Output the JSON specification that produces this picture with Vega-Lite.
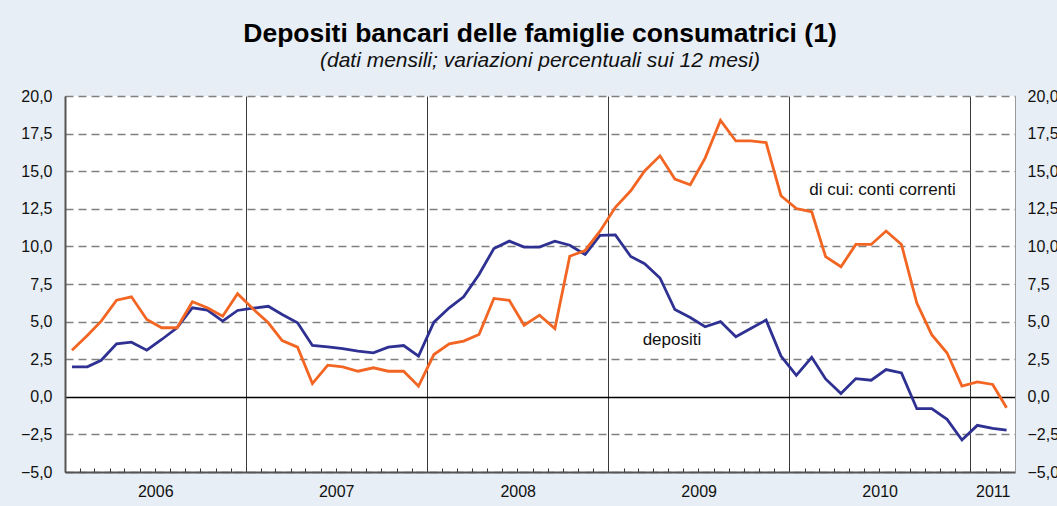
{
  "$schema": "https://vega.github.io/schema/vega-lite/v6.json",
  "width": 950,
  "height": 376,
  "autosize": {"type": "none"},
  "padding": {"left": 65, "top": 96, "right": 42, "bottom": 34},
  "background": "#e7eef5",
  "config": {
    "font": "Liberation Sans",
    "view": {"fill": "white", "stroke": null},
    "axis": {"labelFont": "Liberation Sans", "labelFontSize": 16, "labelColor": "#111"}
  },
  "title": {
    "text": "Depositi bancari delle famiglie consumatrici (1)",
    "subtitle": "(dati mensili; variazioni percentuali sui 12 mesi)",
    "anchor": "middle",
    "frame": "group",
    "font": "Liberation Sans",
    "fontSize": 26.5,
    "fontWeight": "bold",
    "color": "#000",
    "subtitleFont": "Liberation Sans",
    "subtitleFontSize": 21,
    "subtitleFontStyle": "italic",
    "subtitleColor": "#111",
    "subtitlePadding": 3,
    "offset": 17
  },
  "datasets": {
    "depositi": [
      {"date": "2006-01-15", "v": 1.99}, {"date": "2006-02-15", "v": 1.99}, {"date": "2006-03-15", "v": 2.43},
      {"date": "2006-04-15", "v": 3.52}, {"date": "2006-05-15", "v": 3.63}, {"date": "2006-06-15", "v": 3.10},
      {"date": "2006-07-15", "v": 3.81}, {"date": "2006-08-15", "v": 4.59}, {"date": "2006-09-15", "v": 5.92},
      {"date": "2006-10-15", "v": 5.76}, {"date": "2006-11-15", "v": 5.03}, {"date": "2006-12-15", "v": 5.74},
      {"date": "2007-01-15", "v": 5.89}, {"date": "2007-02-15", "v": 6.02}, {"date": "2007-03-15", "v": 5.47},
      {"date": "2007-04-15", "v": 4.92}, {"date": "2007-05-15", "v": 3.41}, {"date": "2007-06-15", "v": 3.32},
      {"date": "2007-07-15", "v": 3.21}, {"date": "2007-08-15", "v": 3.03}, {"date": "2007-09-15", "v": 2.92},
      {"date": "2007-10-15", "v": 3.30}, {"date": "2007-11-15", "v": 3.41}, {"date": "2007-12-15", "v": 2.70},
      {"date": "2008-01-15", "v": 4.96}, {"date": "2008-02-15", "v": 5.92}, {"date": "2008-03-15", "v": 6.65},
      {"date": "2008-04-15", "v": 8.13}, {"date": "2008-05-15", "v": 9.86}, {"date": "2008-06-15", "v": 10.35},
      {"date": "2008-07-15", "v": 9.95}, {"date": "2008-08-15", "v": 9.95}, {"date": "2008-09-15", "v": 10.35},
      {"date": "2008-10-15", "v": 10.08}, {"date": "2008-11-15", "v": 9.46}, {"date": "2008-12-15", "v": 10.74},
      {"date": "2009-01-15", "v": 10.77}, {"date": "2009-02-15", "v": 9.33}, {"date": "2009-03-15", "v": 8.85},
      {"date": "2009-04-15", "v": 7.90}, {"date": "2009-05-15", "v": 5.80}, {"date": "2009-06-15", "v": 5.27},
      {"date": "2009-07-15", "v": 4.66}, {"date": "2009-08-15", "v": 5.00}, {"date": "2009-09-15", "v": 3.99},
      {"date": "2009-10-15", "v": 4.54}, {"date": "2009-11-15", "v": 5.10}, {"date": "2009-12-15", "v": 2.71},
      {"date": "2010-01-15", "v": 1.43}, {"date": "2010-02-15", "v": 2.63}, {"date": "2010-03-15", "v": 1.19},
      {"date": "2010-04-15", "v": 0.22}, {"date": "2010-05-15", "v": 1.21}, {"date": "2010-06-15", "v": 1.10},
      {"date": "2010-07-15", "v": 1.81}, {"date": "2010-08-15", "v": 1.59}, {"date": "2010-09-15", "v": -0.79},
      {"date": "2010-10-15", "v": -0.79}, {"date": "2010-11-15", "v": -1.50}, {"date": "2010-12-15", "v": -2.87},
      {"date": "2011-01-15", "v": -1.90}, {"date": "2011-02-15", "v": -2.10}, {"date": "2011-03-15", "v": -2.21}
    ],
    "conti": [
      {"date": "2006-01-15", "v": 3.10}, {"date": "2006-02-15", "v": 4.07}, {"date": "2006-03-15", "v": 5.03},
      {"date": "2006-04-15", "v": 6.42}, {"date": "2006-05-15", "v": 6.65}, {"date": "2006-06-15", "v": 5.14},
      {"date": "2006-07-15", "v": 4.59}, {"date": "2006-08-15", "v": 4.59}, {"date": "2006-09-15", "v": 6.32},
      {"date": "2006-10-15", "v": 5.92}, {"date": "2006-11-15", "v": 5.36}, {"date": "2006-12-15", "v": 6.85},
      {"date": "2007-01-15", "v": 5.85}, {"date": "2007-02-15", "v": 4.92}, {"date": "2007-03-15", "v": 3.74},
      {"date": "2007-04-15", "v": 3.30}, {"date": "2007-05-15", "v": 0.88}, {"date": "2007-06-15", "v": 2.10},
      {"date": "2007-07-15", "v": 1.99}, {"date": "2007-08-15", "v": 1.70}, {"date": "2007-09-15", "v": 1.93},
      {"date": "2007-10-15", "v": 1.70}, {"date": "2007-11-15", "v": 1.70}, {"date": "2007-12-15", "v": 0.71},
      {"date": "2008-01-15", "v": 2.81}, {"date": "2008-02-15", "v": 3.52}, {"date": "2008-03-15", "v": 3.70},
      {"date": "2008-04-15", "v": 4.14}, {"date": "2008-05-15", "v": 6.54}, {"date": "2008-06-15", "v": 6.42},
      {"date": "2008-07-15", "v": 4.76}, {"date": "2008-08-15", "v": 5.43}, {"date": "2008-09-15", "v": 4.54},
      {"date": "2008-10-15", "v": 9.35}, {"date": "2008-11-15", "v": 9.73}, {"date": "2008-12-15", "v": 11.01},
      {"date": "2009-01-15", "v": 12.60}, {"date": "2009-02-15", "v": 13.70}, {"date": "2009-03-15", "v": 15.02},
      {"date": "2009-04-15", "v": 16.02}, {"date": "2009-05-15", "v": 14.48}, {"date": "2009-06-15", "v": 14.10},
      {"date": "2009-07-15", "v": 15.87}, {"date": "2009-08-15", "v": 18.38}, {"date": "2009-09-15", "v": 17.01},
      {"date": "2009-10-15", "v": 17.01}, {"date": "2009-11-15", "v": 16.90}, {"date": "2009-12-15", "v": 13.37},
      {"date": "2010-01-15", "v": 12.52}, {"date": "2010-02-15", "v": 12.30}, {"date": "2010-03-15", "v": 9.32},
      {"date": "2010-04-15", "v": 8.65}, {"date": "2010-05-15", "v": 10.13}, {"date": "2010-06-15", "v": 10.13},
      {"date": "2010-07-15", "v": 11.02}, {"date": "2010-08-15", "v": 10.13}, {"date": "2010-09-15", "v": 6.23},
      {"date": "2010-10-15", "v": 4.13}, {"date": "2010-11-15", "v": 2.91}, {"date": "2010-12-15", "v": 0.71},
      {"date": "2011-01-15", "v": 0.99}, {"date": "2011-02-15", "v": 0.82}, {"date": "2011-03-15", "v": -0.73}
    ],
    "labels": [
      {"date": "2009-03-11", "v": 3.76, "label": "depositi"},
      {"date": "2010-02-10", "v": 13.78, "label": "di cui: conti correnti"}
    ]
  },
  "encoding": {
    "x": {
      "field": "date",
      "type": "temporal",
      "title": null,
      "scale": {
        "type": "utc",
        "domain": [
          {"year": 2006, "month": 1, "date": 1, "utc": true},
          {"year": 2011, "month": 4, "date": 1, "utc": true}
        ]
      },
      "axis": {
        "orient": "bottom",
        "title": null,
        "values": [
          {"year": 2006, "month": 1, "date": 1, "utc": true}, {"year": 2006, "month": 2, "date": 1, "utc": true},
          {"year": 2006, "month": 3, "date": 1, "utc": true}, {"year": 2006, "month": 4, "date": 1, "utc": true},
          {"year": 2006, "month": 5, "date": 1, "utc": true}, {"year": 2006, "month": 6, "date": 1, "utc": true},
          {"year": 2006, "month": 7, "date": 1, "utc": true}, {"year": 2006, "month": 8, "date": 1, "utc": true},
          {"year": 2006, "month": 9, "date": 1, "utc": true}, {"year": 2006, "month": 10, "date": 1, "utc": true},
          {"year": 2006, "month": 11, "date": 1, "utc": true}, {"year": 2006, "month": 12, "date": 1, "utc": true},
          {"year": 2007, "month": 1, "date": 1, "utc": true}, {"year": 2007, "month": 2, "date": 1, "utc": true},
          {"year": 2007, "month": 3, "date": 1, "utc": true}, {"year": 2007, "month": 4, "date": 1, "utc": true},
          {"year": 2007, "month": 5, "date": 1, "utc": true}, {"year": 2007, "month": 6, "date": 1, "utc": true},
          {"year": 2007, "month": 7, "date": 1, "utc": true}, {"year": 2007, "month": 8, "date": 1, "utc": true},
          {"year": 2007, "month": 9, "date": 1, "utc": true}, {"year": 2007, "month": 10, "date": 1, "utc": true},
          {"year": 2007, "month": 11, "date": 1, "utc": true}, {"year": 2007, "month": 12, "date": 1, "utc": true},
          {"year": 2008, "month": 1, "date": 1, "utc": true}, {"year": 2008, "month": 2, "date": 1, "utc": true},
          {"year": 2008, "month": 3, "date": 1, "utc": true}, {"year": 2008, "month": 4, "date": 1, "utc": true},
          {"year": 2008, "month": 5, "date": 1, "utc": true}, {"year": 2008, "month": 6, "date": 1, "utc": true},
          {"year": 2008, "month": 7, "date": 1, "utc": true}, {"year": 2008, "month": 8, "date": 1, "utc": true},
          {"year": 2008, "month": 9, "date": 1, "utc": true}, {"year": 2008, "month": 10, "date": 1, "utc": true},
          {"year": 2008, "month": 11, "date": 1, "utc": true}, {"year": 2008, "month": 12, "date": 1, "utc": true},
          {"year": 2009, "month": 1, "date": 1, "utc": true}, {"year": 2009, "month": 2, "date": 1, "utc": true},
          {"year": 2009, "month": 3, "date": 1, "utc": true}, {"year": 2009, "month": 4, "date": 1, "utc": true},
          {"year": 2009, "month": 5, "date": 1, "utc": true}, {"year": 2009, "month": 6, "date": 1, "utc": true},
          {"year": 2009, "month": 7, "date": 1, "utc": true}, {"year": 2009, "month": 8, "date": 1, "utc": true},
          {"year": 2009, "month": 9, "date": 1, "utc": true}, {"year": 2009, "month": 10, "date": 1, "utc": true},
          {"year": 2009, "month": 11, "date": 1, "utc": true}, {"year": 2009, "month": 12, "date": 1, "utc": true},
          {"year": 2010, "month": 1, "date": 1, "utc": true}, {"year": 2010, "month": 2, "date": 1, "utc": true},
          {"year": 2010, "month": 3, "date": 1, "utc": true}, {"year": 2010, "month": 4, "date": 1, "utc": true},
          {"year": 2010, "month": 5, "date": 1, "utc": true}, {"year": 2010, "month": 6, "date": 1, "utc": true},
          {"year": 2010, "month": 7, "date": 1, "utc": true}, {"year": 2010, "month": 8, "date": 1, "utc": true},
          {"year": 2010, "month": 9, "date": 1, "utc": true}, {"year": 2010, "month": 10, "date": 1, "utc": true},
          {"year": 2010, "month": 11, "date": 1, "utc": true}, {"year": 2010, "month": 12, "date": 1, "utc": true},
          {"year": 2011, "month": 1, "date": 1, "utc": true}, {"year": 2011, "month": 2, "date": 1, "utc": true},
          {"year": 2011, "month": 3, "date": 1, "utc": true},
          {"year": 2006, "month": 7, "date": 2, "utc": true}, {"year": 2007, "month": 7, "date": 2, "utc": true},
          {"year": 2008, "month": 7, "date": 2, "utc": true}, {"year": 2009, "month": 7, "date": 2, "utc": true},
          {"year": 2010, "month": 7, "date": 2, "utc": true}, {"year": 2011, "month": 2, "date": 15, "utc": true}
        ],
        "labelExpr": "utcdate(datum.value) == 1 ? '' : '' + utcyear(datum.value)",
        "labelFlush": false,
        "labelOverlap": false,
        "labelAlign": "center",
        "labelBaseline": "top",
        "labelPadding": 15,
        "tickSize": -4,
        "tickColor": "#333",
        "tickWidth": 1,
        "tickOpacity": {"condition": {"test": "utcdate(datum.value) != 1", "value": 0}, "value": 1},
        "grid": true,
        "gridColor": "#3a3a3a",
        "gridWidth": 1,
        "gridOpacity": {"condition": {"test": "utcdate(datum.value) == 1 && utcmonth(datum.value) == 0", "value": 1}, "value": 0},
        "domainColor": "#555",
        "domainWidth": 2
      }
    }
  },
  "layer": [
    {
      "data": {"name": "depositi"},
      "mark": {"type": "line", "color": "#2e3192", "strokeWidth": 2.8},
      "encoding": {
        "y": {
          "field": "v",
          "type": "quantitative",
          "scale": {"domain": [-5, 20], "nice": false, "zero": false},
          "axis": {
            "orient": "left",
            "title": null,
            "values": [-5, -2.5, 0, 2.5, 5, 7.5, 10, 12.5, 15, 17.5, 20],
            "labelExpr": "replace(format(datum.value, '.1f'), '.', ',')",
            "ticks": false,
            "labelPadding": 13,
            "grid": true,
            "gridColor": {"condition": {"test": "datum.value == 0", "value": "#000"}, "value": "#808080"},
            "gridDash": {"condition": {"test": "datum.value == 0", "value": []}, "value": [8, 5]},
            "gridWidth": 1.3,
            "domainColor": "#555",
            "domainWidth": 2
          }
        }
      }
    },
    {
      "data": {"name": "conti"},
      "mark": {"type": "line", "color": "#f26522", "strokeWidth": 2.8},
      "encoding": {
        "y": {
          "field": "v",
          "type": "quantitative",
          "scale": {"domain": [-5, 20], "nice": false, "zero": false},
          "axis": {
            "orient": "right",
            "title": null,
            "values": [-5, -2.5, 0, 2.5, 5, 7.5, 10, 12.5, 15, 17.5, 20],
            "labelExpr": "replace(format(datum.value, '.1f'), '.', ',')",
            "ticks": false,
            "labelAlign": "left",
            "labelPadding": 12,
            "grid": false,
            "domainColor": "#9a9a9a",
            "domainWidth": 1
          }
        }
      }
    },
    {
      "data": {"name": "labels"},
      "mark": {"type": "text", "align": "left", "baseline": "middle", "fontSize": 17, "font": "Liberation Sans", "color": "#111"},
      "encoding": {
        "y": {"field": "v", "type": "quantitative", "scale": {"domain": [-5, 20], "nice": false, "zero": false}, "axis": null},
        "text": {"field": "label"}
      }
    }
  ],
  "resolve": {"axis": {"y": "independent"}}
}
